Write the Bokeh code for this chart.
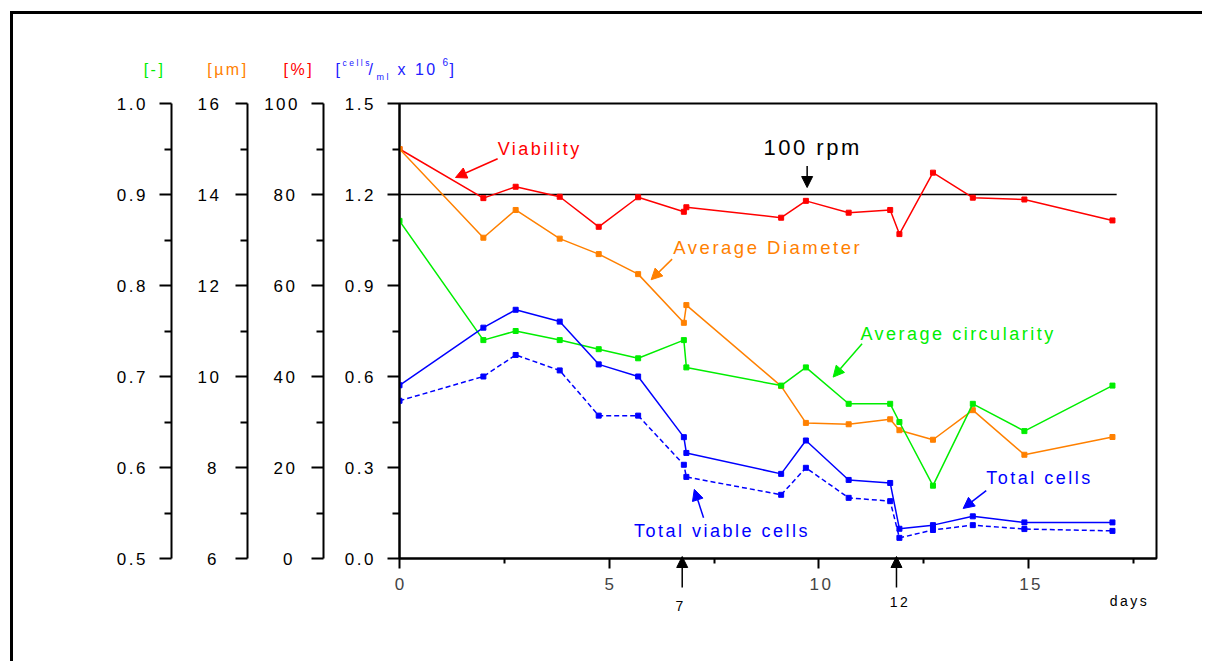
from bokeh.plotting import figure
from bokeh.layouts import column, row
from bokeh.models import (Range1d, LinearAxis, FixedTicker, NumeralTickFormatter,
                          Label, Arrow, NormalHead)
from bokeh.embed import file_html
from bokeh.resources import INLINE

# ---------------- data ----------------
days = [0, 2.0, 2.77, 3.82, 4.75, 5.69, 6.78, 6.84, 9.1, 9.69, 10.71, 11.70, 11.92, 12.72, 13.67, 14.9, 17.0]
viability = [90.0, 79.2, 81.7, 79.5, 72.9, 79.4, 76.2, 77.2, 74.9, 78.6, 76.0, 76.6, 71.3, 84.8, 79.3, 78.9, 74.3]
diameter = [15.0, 13.05, 13.66, 13.03, 12.69, 12.25, 11.18, 11.57, 9.79, 8.98, 8.95, 9.06, 8.82, 8.61, 9.26, 8.28, 8.67]
circularity = [0.871, 0.740, 0.750, 0.740, 0.730, 0.720, 0.740, 0.710, 0.690, 0.710, 0.670, 0.670, 0.650, 0.580, 0.670, 0.640, 0.690]
total_cells = [0.571, 0.761, 0.820, 0.781, 0.640, 0.600, 0.400, 0.348, 0.279, 0.389, 0.259, 0.249, 0.098, 0.110, 0.139, 0.119, 0.119]
viable_cells = [0.520, 0.600, 0.671, 0.620, 0.471, 0.471, 0.309, 0.269, 0.210, 0.299, 0.200, 0.189, 0.068, 0.094, 0.110, 0.097, 0.091]

rpm_days = [0, 17.1]
rpm_level = [1.2, 1.2]

x_ticks = [0, 5, 10, 15]
x_minor = [2.5, 7.5, 12.5, 17.5]
cells_ticks = [0.0, 0.3, 0.6, 0.9, 1.2, 1.5]
cells_minor = [0.15, 0.45, 0.75, 1.05, 1.35]
pct_ticks = [0, 20, 40, 60, 80, 100]
pct_minor = [10, 30, 50, 70, 90]
um_ticks = [6, 8, 10, 12, 14, 16]
um_minor = [7, 9, 11, 13, 15]
circ_ticks = [0.5, 0.6, 0.7, 0.8, 0.9, 1.0]
circ_minor = [0.55, 0.65, 0.75, 0.85, 0.95]

# event marks on the day axis (day 7 and day 12 of the run)
event_days = [6.741, 11.85]
event_labels = ["7", "12"]
event_label_days = [6.58, 11.69]
event_label_y = [-0.165, -0.152]

RED = "#FF0000"
ORANGE = "#FF8000"
GREEN = "#00EE00"
BLUE = "#0000FF"
HBLUE = "#2020FF"
FONT = "Liberation Sans"

W, H = 1192, 650
MB_L, MB_R, MB_T, MB_B = 386, 49, 89, 106
X0, X1 = 0, 18.05
Y0, Y1 = 0, 1.5

p = figure(width=W, height=H, output_backend="svg", toolbar_location=None,
           x_range=Range1d(X0, X1), y_range=Range1d(Y0, Y1),
           min_border_left=MB_L, min_border_right=MB_R, min_border_top=MB_T,
           min_border_bottom=MB_B, background_fill_color="white",
           border_fill_color="white")
p.grid.visible = False
p.outline_line_color = "black"
p.outline_line_width = 2
p.styles = {"letter-spacing": "2.5px",
            "border-left": "3px solid black", "border-top": "3px solid black",
            "margin-left": "10px", "margin-top": "11px"}

p.extra_y_ranges = {
    "pct": Range1d(0, 100),
    "um": Range1d(6, 16),
    "circ": Range1d(0.5, 1.0),
}


def style_axis(ax, ticks, minor, fmt, standoff_lab):
    ax.ticker = FixedTicker(ticks=ticks, minor_ticks=minor)
    ax.formatter = NumeralTickFormatter(format=fmt)
    ax.axis_line_width = 2
    ax.axis_line_color = "black"
    ax.major_tick_line_width = 2
    ax.minor_tick_line_width = 2
    ax.major_tick_out = 12
    ax.major_tick_in = 0
    ax.minor_tick_out = 7
    ax.minor_tick_in = 0
    ax.major_label_text_font = FONT
    ax.major_label_text_font_size = "17px"
    ax.major_label_text_color = "black"
    ax.major_label_standoff = 19
    ax.axis_label = " "
    ax.axis_label_text_font_size = "1px"
    ax.axis_label_standoff = standoff_lab


# main (cells) axis
main_ax = p.yaxis[0]
style_axis(main_ax, cells_ticks, cells_minor, "0.0", 14)

ax_pct = LinearAxis(y_range_name="pct")
style_axis(ax_pct, pct_ticks, pct_minor, "0", 10)
p.add_layout(ax_pct, "left")

ax_um = LinearAxis(y_range_name="um")
style_axis(ax_um, um_ticks, um_minor, "0", 19)
p.add_layout(ax_um, "left")

ax_circ = LinearAxis(y_range_name="circ")
style_axis(ax_circ, circ_ticks, circ_minor, "0.0", 5)
p.add_layout(ax_circ, "left")

xa = p.xaxis[0]
xa.ticker = FixedTicker(ticks=x_ticks, minor_ticks=x_minor)
xa.axis_line_width = 2
xa.major_tick_line_width = 2
xa.minor_tick_line_width = 2
xa.major_tick_out = 10
xa.major_tick_in = 0
xa.minor_tick_out = 5
xa.minor_tick_in = 0
xa.major_label_text_font = FONT
xa.major_label_text_font_size = "17px"
xa.major_label_standoff = 9

# 100 rpm reference line
p.line(rpm_days, rpm_level, line_color="black", line_width=1.5)

# series
p.line(days, viability, y_range_name="pct", line_color=RED, line_width=1.5)
p.scatter(days, viability, y_range_name="pct", marker="square", size=5, color=RED)

p.line(days, diameter, y_range_name="um", line_color=ORANGE, line_width=1.5)
p.scatter(days, diameter, y_range_name="um", marker="square", size=5, color=ORANGE)

p.line(days, circularity, y_range_name="circ", line_color=GREEN, line_width=1.5)
p.scatter(days, circularity, y_range_name="circ", marker="square", size=5, color=GREEN)

p.line(days, total_cells, line_color=BLUE, line_width=1.5)
p.scatter(days, total_cells, marker="square", size=5, color=BLUE)

p.line(days, viable_cells, line_color=BLUE, line_width=1.5, line_dash="5 3")
p.scatter(days, viable_cells, marker="square", size=5, color=BLUE)


def arrow(fig, x0, y0, x1, y1, color):
    fig.add_layout(Arrow(end=NormalHead(size=11, fill_color=color, line_color=color),
                         x_start=x0, y_start=y0, x_end=x1, y_end=y1,
                         line_color=color, line_width=1.5))


def label(fig, x, y, text, color, size="18px"):
    fig.add_layout(Label(x=x, y=y, text=text, text_color=color, text_font=FONT,
                         text_font_size=size, text_align="left", text_baseline="middle"))


# annotations inside the frame
label(p, 2.34, 1.350, "Viability", RED)
arrow(p, 2.34, 1.318, 1.335, 1.256, RED)

label(p, 8.68, 1.354, "100 rpm", "black", size="22px")
arrow(p, 9.72, 1.294, 9.72, 1.223, "black")

label(p, 6.53, 1.026, "Average Diameter", ORANGE, size="18.5px")
arrow(p, 6.50, 0.987, 6.0, 0.919, ORANGE)

label(p, 10.99, 0.739, "Average circularity", GREEN)
arrow(p, 11.03, 0.708, 10.34, 0.598, GREEN)

label(p, 5.59, 0.090, "Total viable cells", BLUE)
arrow(p, 7.25, 0.134, 7.03, 0.228, BLUE)

label(p, 13.99, 0.266, "Total cells", BLUE)
arrow(p, 13.99, 0.224, 13.44, 0.165, BLUE)

# ---- transparent overlay figure sharing the same day / cell coordinates,
# ---- whose frame covers the whole canvas (for marks outside the main frame)
ppx = (W - MB_L - MB_R) / (X1 - X0)
ppy = (H - MB_T - MB_B) / (Y1 - Y0)
ov = figure(width=W, height=H, output_backend="svg", toolbar_location=None,
            x_range=Range1d(X0 - MB_L / ppx, X1 + MB_R / ppx),
            y_range=Range1d(Y0 - MB_B / ppy, Y1 + MB_T / ppy),
            min_border=0, x_axis_type=None, y_axis_type=None,
            background_fill_alpha=0, border_fill_alpha=0)
ov.outline_line_color = None
ov.grid.visible = False
ov.styles = {"letter-spacing": "2.5px"}

for d, ld, ly, t in zip(event_days, event_label_days, event_label_y, event_labels):
    arrow(ov, d, -0.1055, d, -0.0033, "black")
    label(ov, ld, ly, t, "black", size="14px")

label(ov, 16.934, -0.1484, "days", "black", size="14px")

# unit header
hy = 1.603
label(ov, -6.10, hy, "[-]", GREEN, size="16px")
label(ov, -4.585, hy, "[µm]", ORANGE, size="16px")
label(ov, -2.766, hy, "[%]", RED, size="16px")
label(ov, -1.526, hy, "[", HBLUE, size="16px")
label(ov, -1.359, 1.625, "cells", HBLUE, size="8.5px")
label(ov, -0.739, hy, "/", HBLUE, size="16px")
label(ov, -0.548, 1.576, "ml", HBLUE, size="9px")
label(ov, -0.048, hy, "x 10", HBLUE, size="16px")
label(ov, 1.025, 1.628, "6", HBLUE, size="10px")
label(ov, 1.192, hy, "]", HBLUE, size="16px")

ov_box = row(ov, styles={"margin-top": f"-{H}px", "margin-left": "13px"})
layout = column(p, ov_box)
open("out.html", "w").write(file_html(layout, INLINE))
